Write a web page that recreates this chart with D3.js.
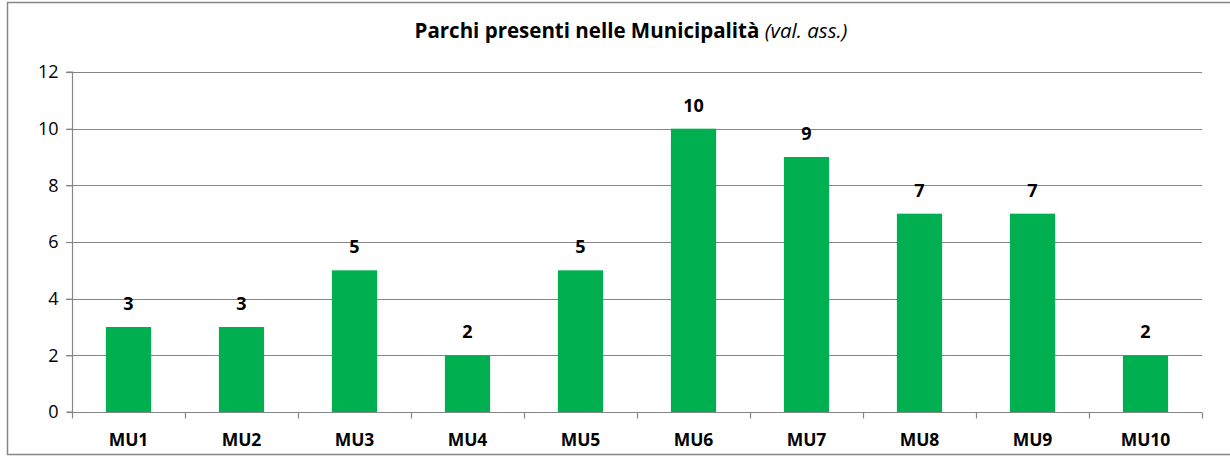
<!DOCTYPE html>
<html>
<head>
<meta charset="utf-8">
<script src="https://cdn.jsdelivr.net/npm/d3@7"></script>
<style>
  body { margin: 0; background: #fff; }
  svg { display: block; font-family: "Open Sans", sans-serif; }
</style>
</head>
<body>
<div id="chart"></div>
<script>
const categories = ["MU1", "MU2", "MU3", "MU4", "MU5", "MU6", "MU7", "MU8", "MU9", "MU10"];
const parchi = [3, 3, 5, 2, 5, 10, 9, 7, 7, 2];
const yTicks = [0, 2, 4, 6, 8, 10, 12];

const width = 1230;
const height = 457;
const margin = {top: 72, right: 28, bottom: 45, left: 72};
const grey = "#868686";
const green = "#00B050";

const svg = d3.select("#chart")
    .append("svg")
    .attr("width", width)
    .attr("height", height);

// chart frame (right edge runs off the picture)
svg.append("rect")
    .attr("x", 7.5)
    .attr("y", 2.5)
    .attr("width", 1240)
    .attr("height", 452)
    .attr("fill", "none")
    .attr("stroke", grey)
    .attr("stroke-width", 1.5);

const x = d3.scaleBand()
    .domain(categories)
    .range([margin.left, width - margin.right])
    .paddingInner(0.6)
    .paddingOuter(0.3);

const y = d3.scaleLinear()
    .domain([0, 12])
    .range([height - margin.bottom, margin.top]);

// gridlines
svg.append("g")
    .selectAll("line")
    .data(yTicks.filter(d => d > 0))
    .enter()
    .append("line")
    .attr("x1", margin.left - 6)
    .attr("x2", width - margin.right)
    .attr("y1", d => Math.round(y(d)) + 0.5)
    .attr("y2", d => Math.round(y(d)) + 0.5)
    .attr("stroke", grey)
    .attr("stroke-width", 1.2);

// bars
svg.append("g")
    .selectAll("rect")
    .data(parchi)
    .enter()
    .append("rect")
    .attr("x", (d, i) => x(categories[i]))
    .attr("y", d => y(d))
    .attr("width", x.bandwidth())
    .attr("height", d => y(0) - y(d))
    .attr("fill", green);

// value labels
svg.append("g")
    .selectAll("text")
    .data(parchi)
    .enter()
    .append("text")
    .attr("x", (d, i) => x(categories[i]) + x.bandwidth() / 2)
    .attr("y", d => y(d) - 17)
    .attr("text-anchor", "middle")
    .attr("font-size", 18)
    .attr("font-weight", "bold")
    .attr("fill", "#000")
    .text(d => d);

// y axis
const yAxis = svg.append("g")
    .attr("transform", `translate(${margin.left + 0.5},0)`)
    .call(d3.axisLeft(y).tickValues(yTicks).tickSize(6).tickPadding(8));
yAxis.selectAll("path, line").attr("stroke", grey).attr("stroke-width", 1.2);
yAxis.select(".domain").attr("d", `M-6,${y(12)}H0V${y(0)}H-6`);
yAxis.selectAll("text")
    .attr("font-family", "Open Sans, sans-serif")
    .attr("font-size", 18)
    .attr("fill", "#000");

// x axis: ticks at category boundaries
const xAxis = svg.append("g")
    .attr("transform", `translate(0,${Math.round(y(0)) + 0.5})`);
xAxis.append("line")
    .attr("x1", margin.left)
    .attr("x2", width - margin.right)
    .attr("stroke", grey)
    .attr("stroke-width", 1.2);
const bounds = d3.range(categories.length + 1).map(i => margin.left + i * (width - margin.left - margin.right) / categories.length);
xAxis.selectAll(".tick")
    .data(bounds)
    .enter()
    .append("line")
    .attr("x1", d => Math.round(d) + 0.5)
    .attr("x2", d => Math.round(d) + 0.5)
    .attr("y1", 0)
    .attr("y2", 6)
    .attr("stroke", grey)
    .attr("stroke-width", 1.2);
xAxis.selectAll("text")
    .data(categories)
    .enter()
    .append("text")
    .attr("x", d => x(d) + x.bandwidth() / 2)
    .attr("y", 33.5)
    .attr("text-anchor", "middle")
    .attr("font-size", 17.5)
    .attr("font-weight", "bold")
    .attr("fill", "#000")
    .text(d => d);

// title
const title = svg.append("text")
    .attr("x", 631)
    .attr("y", 38)
    .attr("text-anchor", "middle")
    .attr("font-size", 20.5)
    .attr("fill", "#000");
title.append("tspan").attr("font-weight", "bold").text("Parchi presenti nelle Municipalità ");
title.append("tspan").attr("font-style", "italic").text("(val. ass.)");
</script>
</body>
</html>
